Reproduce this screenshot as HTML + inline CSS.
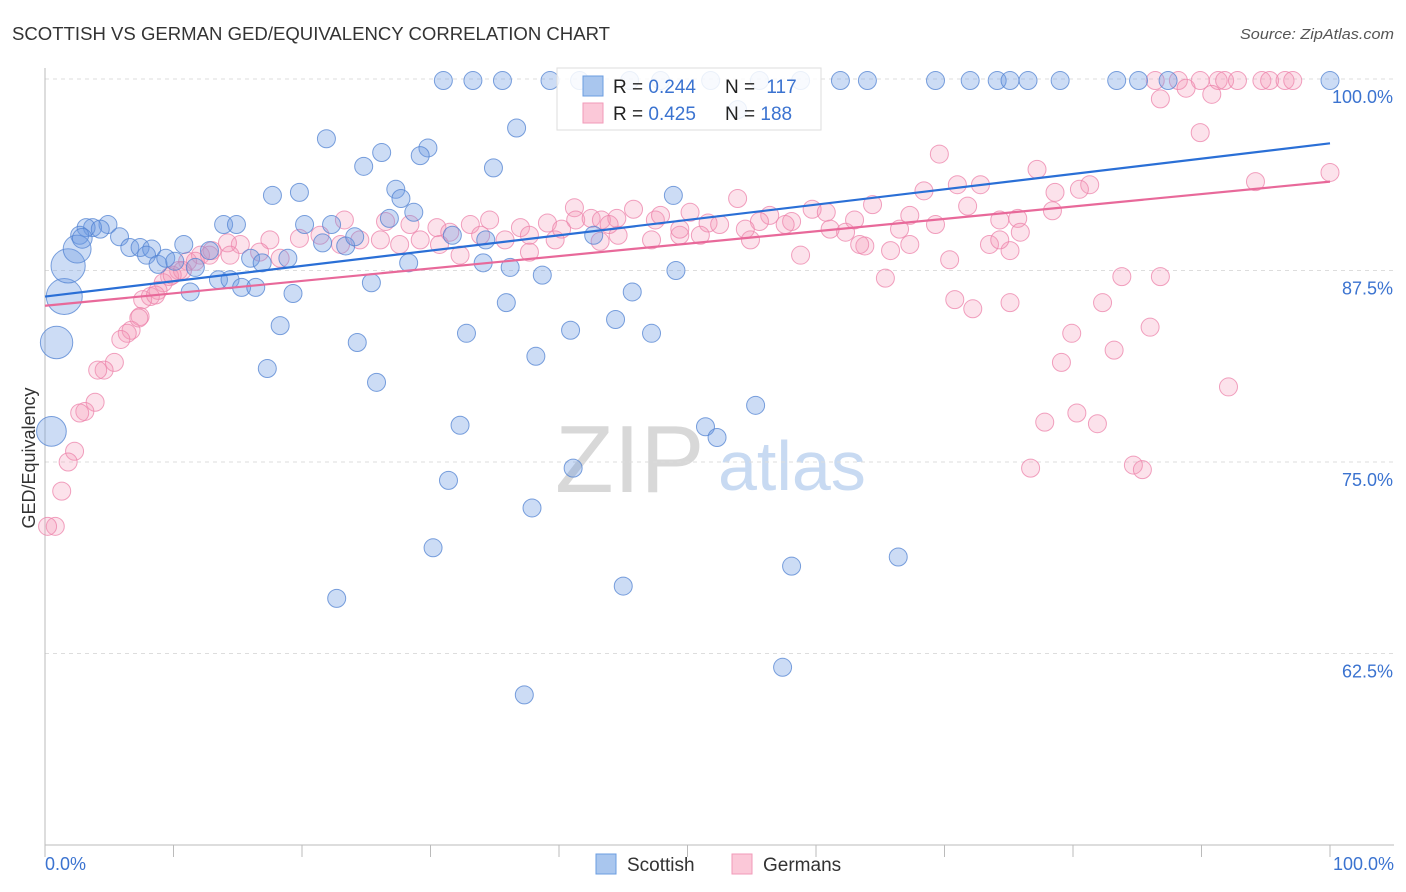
<!DOCTYPE html>
<html><head><meta charset="utf-8">
<style>
body{margin:0;background:#fff;font-family:"Liberation Sans",sans-serif;}
#wrap{position:relative;width:1406px;height:892px;overflow:hidden;}
svg text{font-family:"Liberation Sans",sans-serif;}
</style></head>
<body>
<div id="wrap">
<svg id="chart" width="1406" height="892">
<text x="12" y="40" font-size="18" fill="#333" textLength="598" lengthAdjust="spacingAndGlyphs">SCOTTISH VS GERMAN GED/EQUIVALENCY CORRELATION CHART</text>
<text x="1394" y="39" font-size="15" fill="#555" text-anchor="end" font-style="italic" textLength="154" lengthAdjust="spacingAndGlyphs">Source: ZipAtlas.com</text>
<text x="555" y="492" font-size="96" fill="#d8d8d8" font-family="Liberation Serif">ZIP</text>
<text x="718" y="490" font-size="70" fill="#c8daf2">atlas</text>
<g id="grid"></g><g id="axes"></g><g id="pinkPts"></g><g id="bluePts"></g><g id="lines"></g>
<text transform="translate(35,458) rotate(-90)" font-size="18" fill="#333" text-anchor="middle">GED/Equivalency</text>
<g>
<rect x="557" y="68" width="264" height="62" fill="#fff" fill-opacity="0.85" stroke="#ddd"/>
<rect x="583" y="76" width="20" height="20" fill="#a9c6ee" stroke="#6b9de0"/>
<rect x="583" y="103" width="20" height="20" fill="#fbc8d8" stroke="#f29ab8"/>
<text x="613" y="93" font-size="19" fill="#222">R = <tspan fill="#3b73d0">0.244</tspan></text>
<text x="725" y="93" font-size="19" fill="#222">N = <tspan fill="#3b73d0" dx="6">117</tspan></text>
<text x="613" y="120" font-size="19" fill="#222">R = <tspan fill="#3b73d0">0.425</tspan></text>
<text x="725" y="120" font-size="19" fill="#222">N = <tspan fill="#3b73d0">188</tspan></text>
</g>
<g>
<rect x="596" y="854" width="20" height="20" fill="#a9c6ee" stroke="#6b9de0"/>
<text x="627" y="871" font-size="19" fill="#333">Scottish</text>
<rect x="732" y="854" width="20" height="20" fill="#fbc8d8" stroke="#f29ab8"/>
<text x="763" y="871" font-size="19" fill="#333">Germans</text>
</g>
</svg>
</div>
<script>
const yTicks=[100,87.5,75,62.5];
const yTickLabels=["100.0%","87.5%","75.0%","62.5%"];
const xTickLabels=["0.0%","100.0%"];
const blueX=[31.0,33.3,35.6,39.3,41.6,45.5,47.9,51.8,55.6,58.8,61.9,64.0,69.3,72.0,74.1,75.1,76.5,79.0,83.4,85.1,87.4,100,
53.9,36.7,21.9,26.2,29.8,29.2,24.8,34.9,27.3,27.7,17.7,19.8,48.9,28.7,13.9,14.9,20.2,22.3,26.8,4.9,3.7,3.2,4.3,2.7,5.8,6.6,7.4,8.3,10.8,7.9,8.8,9.4,10.1,11.7,12.8,16.0,16.9,18.9,21.6,23.4,24.1,31.7,34.3,42.7,13.5,14.4,15.3,16.4,11.3,19.3,25.4,28.3,34.1,36.2,38.7,49.1,45.7,18.3,24.3,32.8,35.9,40.9,44.4,47.2,38.2,17.3,25.8,55.3,32.3,51.4,52.3,41.1,31.4,37.9,30.2,45.0,58.1,66.4,22.7,57.4,37.3,
1.5,1.8,2.5,0.9,0.5,2.9];
const blueY=[99.9,99.9,99.9,99.9,99.9,99.9,99.9,99.9,99.9,99.9,99.9,99.9,99.9,99.9,99.9,99.9,99.9,99.9,99.9,99.9,99.9,99.9,
98.0,96.8,96.1,95.2,95.5,95.0,94.3,94.2,92.8,92.2,92.4,92.6,92.4,91.3,90.5,90.5,90.5,90.5,90.9,90.5,90.3,90.3,90.2,89.8,89.7,89.0,89.0,88.9,89.2,88.5,87.9,88.3,88.1,87.7,88.8,88.3,88.0,88.3,89.3,89.1,89.7,89.8,89.5,89.8,86.9,86.9,86.4,86.4,86.1,86.0,86.7,88.0,88.0,87.7,87.2,87.5,86.1,83.9,82.8,83.4,85.4,83.6,84.3,83.4,81.9,81.1,80.2,78.7,77.4,77.3,76.6,74.6,73.8,72.0,69.4,66.9,68.2,68.8,66.1,61.6,59.8,
85.8,87.8,88.9,82.8,77.0,89.6];
const blueSize=[];
for(let i=0;i<blueX.length;i++)blueSize.push(1);
blueSize[blueX.length-6]=2;blueSize[blueX.length-5]=1.9;blueSize[blueX.length-4]=1.55;blueSize[blueX.length-3]=1.8;blueSize[blueX.length-2]=1.65;blueSize[blueX.length-1]=1.1;
const pinkX=[86.4,88.2,89.9,91.3,91.8,92.8,94.7,95.3,96.5,97.1,88.8,86.8,90.8,89.9,69.6,77.2,100,94.2,81.3,80.5,78.6,71.0,72.8,68.4,53.9,71.8,78.4,75.7,74.3,67.3,64.4,59.7,60.8,56.4,55.6,58.1,51.6,47.5,45.8,41.2,41.3,42.5,43.3,39.1,37.0,34.6,33.1,30.5,28.4,26.5,23.3,21.4,19.8,17.5,15.2,14.2,13.0,12.1,11.1,10.4,9.7,9.2,8.8,8.2,7.6,7.4,6.7,6.4,5.9,5.4,4.6,4.1,3.9,3.1,2.7,2.3,1.8,1.3,0.8,0.2,
86.8,83.8,82.3,79.9,83.2,86.0,79.1,92.1,80.3,81.9,77.8,76.7,84.7,85.4,75.1,72.2,70.8,73.5,70.4,75.1,65.4,67.3,65.8,63.8,63.4,62.3,61.1,58.8,54.9,51.0,49.4,47.2,44.6,43.2,39.7,37.7,35.8,32.3,30.7,29.2,27.6,26.1,24.5,23.0,18.3,16.7,14.4,12.8,11.7,10.7,9.9,8.6,7.3,
47.9,50.2,52.5,54.5,57.6,63.0,66.5,69.3,74.3,75.9,44.5,40.2,37.7,33.9,31.5,43.9,49.4];
const pinkY=[99.9,99.9,99.9,99.9,99.9,99.9,99.9,99.9,99.9,99.9,99.4,98.7,99.0,96.5,95.1,94.1,93.9,93.3,93.1,92.8,92.6,93.1,93.1,92.7,92.2,91.7,91.4,90.9,90.8,91.1,91.8,91.5,91.3,91.1,90.7,90.7,90.6,90.8,91.5,91.6,90.8,90.9,90.8,90.6,90.3,90.8,90.5,90.3,90.5,90.7,90.8,89.8,89.6,89.5,89.2,89.3,88.8,88.5,88.1,87.5,87.1,86.7,86.2,85.8,85.6,84.5,83.6,83.4,83.0,81.5,81.0,81.0,78.9,78.3,78.2,75.7,75.0,73.1,70.8,70.8,
87.1,87.1,85.4,83.4,82.3,83.8,81.5,79.9,78.2,77.5,77.6,74.6,74.8,74.5,85.4,85.0,85.6,89.2,88.2,88.8,87.0,89.2,88.8,89.1,89.2,90.0,90.2,88.5,89.5,89.8,89.8,89.5,89.8,89.4,89.5,88.7,89.5,88.5,89.2,89.5,89.2,89.5,89.5,89.2,88.3,88.7,88.5,88.5,88.1,87.5,87.2,85.9,84.4,
91.1,91.3,90.5,90.2,90.5,90.8,90.2,90.5,89.5,90.0,90.9,90.2,89.8,89.8,90.0,90.5,90.2];
const blueTrend=[[0,85.8],[100,95.8]];
const pinkTrend=[[0,85.2],[100,93.3]];

const NS="http://www.w3.org/2000/svg";
const X0=45,X1=1330,Y0=845,Y1=79;
function sx(v){return X0+(X1-X0)*v/100;}
function sy(v){return Y0-(Y0-Y1)*(v-50)/50;}
function mk(tag,attrs,parent){const e=document.createElementNS(NS,tag);for(const k in attrs)e.setAttribute(k,attrs[k]);parent.appendChild(e);return e;}
const grid=document.getElementById('grid'),axes=document.getElementById('axes');
yTicks.forEach((t,i)=>{
  const l=mk('line',{x1:X0,x2:1394,y1:sy(t),y2:sy(t),stroke:'#ddd','stroke-dasharray':'4,4'},grid);
  
  
  const tx=mk('text',{x:1393,y:sy(t)+24,'font-size':18,fill:'#3b73d0','text-anchor':'end'},axes);
  tx.textContent=yTickLabels[i];
  
  
});
const ax=mk('line',{x1:X0,x2:1394,y1:Y0,y2:Y0,stroke:'#bbb'},axes);


const ay=mk('line',{x1:X0,x2:X0,y1:68,y2:Y0,stroke:'#bbb'},axes);


for(let i=0;i<=10;i++){
  const t=mk('line',{x1:sx(i*10),x2:sx(i*10),y1:Y0,y2:Y0+12,stroke:'#bbb'},axes);
  
  
}
[[0,'start',X0],[1,'end',1394]].forEach(([i,a,x])=>{
  const t=mk('text',{x:x,y:870,'font-size':18,fill:'#3b73d0','text-anchor':a},axes);
  t.textContent=xTickLabels[i];
  
  
});
const pg=document.getElementById('pinkPts');
pinkX.forEach((v,i)=>{
  const c=mk('circle',{cx:sx(v),cy:sy(pinkY[i]),r:9,fill:'rgba(244,150,182,0.28)',stroke:'rgba(236,130,170,0.75)','stroke-width':1},pg);
  
  
});
const bg=document.getElementById('bluePts');
blueX.forEach((v,i)=>{
  const c=mk('circle',{cx:sx(v),cy:sy(blueY[i]),r:9*blueSize[i],fill:'rgba(110,155,225,0.35)',stroke:'rgba(80,130,210,0.75)','stroke-width':1},bg);
  
  
});
const lg=document.getElementById('lines');
const bl=mk('line',{x1:sx(blueTrend[0][0]),y1:sy(blueTrend[0][1]),x2:sx(blueTrend[1][0]),y2:sy(blueTrend[1][1]),stroke:'#2a6fd6','stroke-width':2.2},lg);


const pl=mk('line',{x1:sx(pinkTrend[0][0]),y1:sy(pinkTrend[0][1]),x2:sx(pinkTrend[1][0]),y2:sy(pinkTrend[1][1]),stroke:'#e8699a','stroke-width':2.2},lg);


</script>
</body></html>
